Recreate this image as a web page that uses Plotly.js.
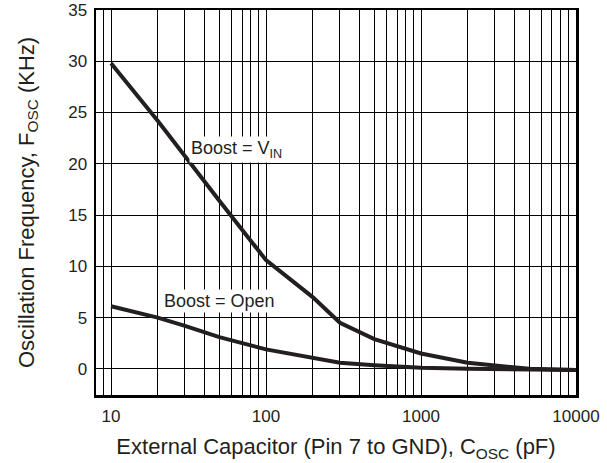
<!DOCTYPE html>
<html>
<head>
<meta charset="utf-8">
<script src="https://cdn.plot.ly/plotly-3.0.1.min.js"></script>
<style>html,body{margin:0;padding:0;background:#fff;}#chart{width:607px;height:463px;}</style>
</head>
<body>
<div id="chart"></div>
<script>
// Boost = VIN curve
const vinX = [10, 20, 50, 100, 200, 300, 500, 1000, 2000, 5000, 10000];
const vinY = [29.8, 24.2, 16.4, 10.6, 7.0, 4.5, 2.9, 1.5, 0.6, 0.0, -0.1];
// Boost = Open curve
const openX = [10, 20, 30, 50, 100, 200, 300, 500, 1000, 2000, 5000, 10000];
const openY = [6.1, 5.0, 4.2, 3.1, 1.9, 1.1, 0.6, 0.35, 0.1, 0.0, -0.1, -0.1];
// Axis ticks
const xMajor = [10, 100, 1000, 10000];
const xGrid = [8, 9,
  10, 20, 30, 40, 50, 60, 70, 80, 90,
  100, 200, 300, 400, 500, 600, 700, 800, 900,
  1000, 2000, 3000, 4000, 5000, 6000, 7000, 8000, 9000, 10000];
const yTicks = [0, 5, 10, 15, 20, 25, 30, 35];

const FONT = "Arial, 'Liberation Sans', Helvetica, sans-serif";
const INK = "#231f20";

const traces = [
  {x: vinX, y: vinY, type: 'scatter', mode: 'lines',
   line: {color: INK, width: 4}, showlegend: false, hoverinfo: 'skip'},
  {x: openX, y: openY, type: 'scatter', mode: 'lines',
   line: {color: INK, width: 4}, showlegend: false, hoverinfo: 'skip'}
];

const layout = {
  width: 607, height: 463,
  margin: {l: 96, r: 31, t: 10, b: 68},
  paper_bgcolor: '#fff', plot_bgcolor: '#fff',
  font: {family: FONT, color: INK, size: 17},
  xaxis: {
    type: 'log',
    range: [Math.log10(8), 4],
    tickvals: xGrid,
    ticktext: xGrid.map(v => xMajor.includes(v) ? String(v) : ''),
    ticks: '', ticklabelstandoff: 4,
    showgrid: true, gridcolor: '#000', gridwidth: 1,
    showline: true, linecolor: '#000', linewidth: 2.5, mirror: true,
    zeroline: false,
    tickfont: {size: 17},
    title: {text: 'External Capacitor (Pin 7 to GND), C<sub>OSC</sub> (pF)', font: {size: 22}, standoff: 14}
  },
  yaxis: {
    range: [-2.55, 35],
    tickvals: yTicks,
    ticks: '', ticklabelstandoff: 3,
    showgrid: true, gridcolor: '#000', gridwidth: 1,
    showline: true, linecolor: '#000', linewidth: 2.5, mirror: true,
    zeroline: false,
    tickfont: {size: 17},
    title: {text: 'Oscillation Frequency, F<sub>OSC</sub> (KHz)', font: {size: 22}, standoff: 28}
  },
  annotations: [
    {x: Math.log10(32), y: 21.4, xref: 'x', yref: 'y', xanchor: 'left', yanchor: 'middle',
     text: 'Boost = V<sub>IN</sub>', showarrow: false, bgcolor: '#fff', font: {size: 18, color: INK}},
    {x: Math.log10(21.3), y: 6.6, xref: 'x', yref: 'y', xanchor: 'left', yanchor: 'middle',
     text: 'Boost = Open', showarrow: false, bgcolor: '#fff', font: {size: 18, color: INK}}
  ]
};

Plotly.newPlot('chart', traces, layout, {staticPlot: true, displayModeBar: false});
</script>
</body>
</html>
